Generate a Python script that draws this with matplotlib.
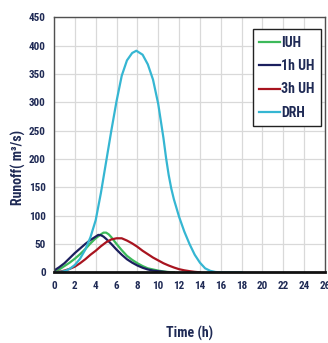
import matplotlib
matplotlib.use("Agg")
import matplotlib.pyplot as plt

# ---------------- data ----------------
t_drh = [0, 0.5, 1, 1.5, 2, 2.5, 3, 3.5, 4, 4.5, 5, 5.5, 6, 6.5, 7, 7.5, 7.9,
         8.5, 9, 9.5, 10, 10.5, 10.75, 11, 11.25, 11.5, 12, 12.5, 13, 13.5, 14,
         14.5, 15, 15.5, 16, 16.5, 17, 17.5, 18]
q_drh = [0, 0.5, 2, 6, 13, 24, 40, 62, 92, 140, 195, 250, 302, 347, 374, 387,
         391, 384, 367, 340, 297, 237, 202, 172, 148, 129, 98, 72, 50, 31, 17,
         7, 2.5, 0.5, 0, 0, 0, 0, 0]

t_1h = [0, 0.5, 1, 1.5, 2, 2.5, 3, 3.5, 4, 4.25, 4.5, 4.75, 5, 5.5, 6, 6.5, 7,
        7.5, 8, 8.5, 9, 9.5, 10, 10.5, 11]
q_1h = [3, 9, 16, 25, 34, 42, 50, 57, 63, 66, 65.5, 63, 59, 50, 40, 31, 23,
        17, 12, 8, 5, 3, 2, 1, 0]

t_iuh = [0, 0.5, 1, 1.5, 2, 2.5, 3, 3.5, 4, 4.5, 4.75, 5, 5.25, 5.5, 6, 6.5, 7,
         7.5, 8, 8.5, 9, 9.5, 10, 10.5, 11, 11.5]
q_iuh = [0, 5, 11, 17, 24, 32, 41, 51, 60, 67, 70, 70, 67, 62, 50, 39, 29, 22,
         16, 11, 7, 5, 3, 1.5, 0.5, 0]

t_3h = [0, 0.5, 1, 1.5, 2, 2.5, 3, 3.5, 4, 4.5, 5, 5.5, 6, 6.5, 7, 7.5, 8, 8.5,
        9, 9.5, 10, 10.5, 11, 11.5, 12, 12.5, 13, 13.5, 14]
q_3h = [0, 1, 3, 6, 10, 16, 23, 31, 38, 46, 53, 58, 60, 60, 56, 51, 45, 38,
        32, 26, 21, 16, 12, 8.5, 5.5, 3.5, 2, 0.8, 0]

series_labels = ["IUH", "1h UH", "3h UH", "DRH"]
x_ticks = list(range(0, 27, 2))
y_ticks = list(range(0, 451, 50))

# ---------------- style ----------------
plt.rcParams["font.family"] = ["Roboto Condensed", "DejaVu Sans"]
txt_col = "#1f2a55"

fig = plt.figure(figsize=(3.28, 3.43), dpi=100)
ax = fig.add_axes([54/328, (343-272.3)/343, (325-54)/328, (272.3-17.3)/343])

colors = ["#3cb95a", "#1b1f5e", "#a8141f", "#35b6d2"]
for (t, q), lab, c in zip([(t_iuh, q_iuh), (t_1h, q_1h), (t_3h, q_3h), (t_drh, q_drh)],
                          series_labels, colors):
    ax.plot(t, q, color=c, lw=1.6, label=lab, solid_joinstyle="round")

ax.set_xlim(0, 26)
ax.set_ylim(0, 450)
ax.set_xticks(x_ticks)
ax.set_yticks(y_ticks)
ax.tick_params(length=0, labelsize=8, labelcolor=txt_col, pad=6)
for lbl in ax.get_xticklabels() + ax.get_yticklabels():
    lbl.set_fontweight("bold")
ax.grid(True, color="#d9d9d9", lw=0.9)
ax.set_axisbelow(True)
for s in ["left", "top", "right"]:
    ax.spines[s].set_color("#505050")
    ax.spines[s].set_linewidth(1.0)
ax.spines["bottom"].set_color("#111111")
ax.spines["bottom"].set_linewidth(2.0)

leg = ax.legend(loc="upper right", bbox_to_anchor=(0.984, 0.953), fancybox=False,
                edgecolor="#222222", framealpha=1, handlelength=1.5,
                handletextpad=0.1, labelspacing=0.68, borderpad=0.45,
                borderaxespad=0, prop={"weight": "bold", "size": 10})
leg.get_frame().set_linewidth(1.0)
for tx in leg.get_texts():
    tx.set_color(txt_col)

fig.text(190/328, 1 - 333/343, "Time (h)", ha="center", va="center",
         fontsize=10, fontweight="bold", color=txt_col)
fig.text(18/328, 1 - 167/343, "Runoff( m³/s)", ha="center", va="center",
         rotation=90, fontsize=10, fontweight="bold", color=txt_col)

fig.savefig("out.png", dpi=100)
